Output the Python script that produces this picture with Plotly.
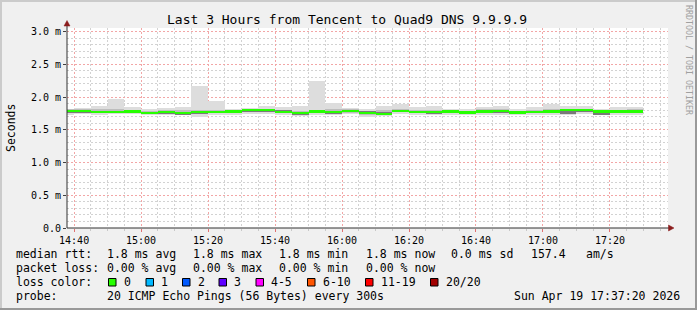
import plotly.graph_objects as go
import pandas as pd

DAY = "2026-04-19"
bin_start = ["14:35", "14:40", "14:45", "14:50", "14:55",
             "15:00", "15:05", "15:10", "15:15", "15:20", "15:25",
             "15:30", "15:35", "15:40", "15:45", "15:50", "15:55",
             "16:00", "16:05", "16:10", "16:15", "16:20", "16:25",
             "16:30", "16:35", "16:40", "16:45", "16:50", "16:55",
             "17:00", "17:05", "17:10", "17:15", "17:20", "17:25"]

rtt_max = [1.82, 1.83, 1.86, 1.97, 1.84, 1.82, 1.83, 1.84, 2.17, 1.94, 1.82, 1.83,
           1.87, 1.85, 1.86, 2.25, 1.91, 1.83, 1.81, 1.86, 1.89, 1.84, 1.86, 1.81,
           1.81, 1.85, 1.86, 1.82, 1.84, 1.90, 1.86, 1.86, 1.81, 1.84, 1.84]
rtt_p75 = [1.81, 1.81, 1.81, 1.81, 1.80, 1.79, 1.80, 1.80, 1.80, 1.80, 1.80, 1.82,
           1.82, 1.80, 1.79, 1.80, 1.81, 1.81, 1.79, 1.80, 1.81, 1.80, 1.80, 1.80,
           1.79, 1.81, 1.81, 1.79, 1.80, 1.81, 1.82, 1.82, 1.80, 1.80, 1.81]
rtt_p60 = [1.80, 1.80, 1.785, 1.79, 1.79, 1.775, 1.785, 1.775, 1.785, 1.79, 1.795, 1.81,
           1.81, 1.80, 1.775, 1.795, 1.785, 1.80, 1.79, 1.765, 1.80, 1.79, 1.785, 1.795,
           1.78, 1.795, 1.80, 1.78, 1.79, 1.795, 1.81, 1.81, 1.79, 1.795, 1.795]
rtt_median = [1.79, 1.79, 1.77, 1.775, 1.78, 1.76, 1.77, 1.755, 1.77, 1.775, 1.78, 1.80,
              1.80, 1.77, 1.76, 1.78, 1.77, 1.79, 1.755, 1.745, 1.79, 1.775, 1.77, 1.78,
              1.765, 1.78, 1.785, 1.765, 1.775, 1.78, 1.80, 1.80, 1.78, 1.78, 1.78]
rtt_p40 = [1.76, 1.77, 1.75, 1.76, 1.755, 1.745, 1.755, 1.73, 1.755, 1.76, 1.765, 1.78,
           1.785, 1.765, 1.73, 1.765, 1.755, 1.775, 1.745, 1.73, 1.775, 1.76, 1.755, 1.765,
           1.74, 1.765, 1.77, 1.745, 1.76, 1.755, 1.745, 1.78, 1.73, 1.765, 1.765]
rtt_p25 = [1.76, 1.76, 1.75, 1.76, 1.76, 1.74, 1.75, 1.73, 1.74, 1.75, 1.76, 1.77,
           1.77, 1.75, 1.73, 1.76, 1.75, 1.76, 1.72, 1.73, 1.77, 1.76, 1.75, 1.76,
           1.74, 1.76, 1.76, 1.74, 1.76, 1.75, 1.76, 1.77, 1.74, 1.76, 1.76]
rtt_min = [1.73, 1.74, 1.73, 1.74, 1.74, 1.72, 1.73, 1.72, 1.70, 1.73, 1.73, 1.74,
           1.74, 1.73, 1.71, 1.73, 1.73, 1.74, 1.69, 1.71, 1.74, 1.73, 1.72, 1.73,
           1.72, 1.73, 1.73, 1.72, 1.73, 1.72, 1.73, 1.74, 1.72, 1.73, 1.73]

y_tick_vals = [0.0, 0.5, 1.0, 1.5, 2.0, 2.5, 3.0]
y_tick_text = ["0.0", "0.5 m", "1.0 m", "1.5 m", "2.0 m", "2.5 m", "3.0 m"]

title_text = "Last 3 Hours from Tencent to Quad9 DNS 9.9.9.9"
y_title = "Seconds"
watermark = "RRDTOOL / TOBI OETIKER"

rtt_line = ["median rtt:", "1.8 ms avg", "1.8 ms max", "1.8 ms min",
            "1.8 ms now", "0.0 ms sd", "157.4", "am/s"]
loss_line = ["packet loss:", "0.00 % avg", "0.00 % max", "0.00 % min", "0.00 % now"]
loss_title = "loss color:"
loss_labels = ["0", "1", "2", "3", "4-5", "6-10", "11-19", "20/20"]
loss_colors = ["#26ff00", "#00b8ff", "#0059ff", "#5e00ff", "#ff00ff",
               "#ff5500", "#ff0000", "#a10000"]
probe_line = ["probe:", "20 ICMP Echo Pings (56 Bytes) every 300s"]
stamp = "Sun Apr 19 17:37:20 2026"

# ---------------- layout geometry (pixels) ----------------
WIDTH, HEIGHT = 697, 310
L, T, PW, PH = 67, 28, 601, 200
MONO = "DejaVu Sans Mono"


def px(x):
    return (x - L) / PW


def py(y):
    return (T + PH - y) / PH


x_start = pd.to_datetime([f"{DAY} {t}" for t in bin_start])
STEP_MS = 300000


def band(lo, hi, color):
    return go.Bar(
        x=x_start, y=[h - l for l, h in zip(lo, hi)], base=lo,
        width=STEP_MS, offset=0, marker=dict(color=color, line=dict(width=0)),
        hoverinfo="skip", showlegend=False)


fig = go.Figure()
fig.add_trace(band(rtt_min, rtt_max, "#dddddd"))
fig.add_trace(band(rtt_p25, rtt_p75, "#bdbdbd"))
fig.add_trace(band(rtt_p40, rtt_p60, "#7a7a7a"))
MED_H = 0.036
fig.add_trace(band([m - MED_H / 2 for m in rtt_median],
                   [m + MED_H / 2 for m in rtt_median], loss_colors[0]))

GRID_MIN = "#d2d2d2"
GRID_MAJ = "#f2a6a6"
DASH = "2px,2px"

fig.update_layout(
    width=WIDTH, height=HEIGHT,
    margin=dict(l=L, r=WIDTH - L - PW, t=T, b=HEIGHT - T - PH, pad=0),
    paper_bgcolor="#f0f0f0", plot_bgcolor="#ffffff",
    barmode="overlay", bargap=0, showlegend=False,
    font=dict(family=MONO, size=10, color="#000000"),
    xaxis=dict(
        type="date",
        range=[f"{DAY} 14:37:53", f"{DAY} 17:37:20"],
        tick0=f"{DAY} 14:40", dtick=1200000, tickformat="%H:%M",
        showgrid=True, gridcolor=GRID_MAJ, griddash=DASH, gridwidth=1,
        ticks="outside", ticklen=3, tickcolor="#e07070", tickwidth=1,
        tickfont=dict(family=MONO, size=10),
        minor=dict(dtick=300000, tick0=f"{DAY} 14:40", showgrid=True,
                   gridcolor=GRID_MIN, griddash=DASH, gridwidth=1,
                   ticks="outside", ticklen=2, tickcolor="#c8c8c8"),
        showline=False, zeroline=False, fixedrange=True,
    ),
    yaxis=dict(
        range=[0, PH / 65.5],
        tickmode="array", tickvals=y_tick_vals, ticktext=y_tick_text,
        showgrid=True, gridcolor=GRID_MAJ, griddash=DASH, gridwidth=1,
        ticks="outside", ticklen=3, tickcolor="#404040", tickwidth=1,
        tickfont=dict(family=MONO, size=10),
        minor=dict(tick0=0, dtick=0.1, showgrid=True, gridcolor=GRID_MIN,
                   griddash=DASH, gridwidth=1),
        showline=False, zeroline=False, fixedrange=True,
    ),
)

shapes = []
# frame shading
shapes.append(dict(type="rect", xref="paper", yref="paper",
                   x0=px(0), x1=px(WIDTH), y0=py(2), y1=py(0),
                   fillcolor="#cbcbcb", line=dict(width=0), layer="below"))
shapes.append(dict(type="rect", xref="paper", yref="paper",
                   x0=px(0), x1=px(2), y0=py(HEIGHT), y1=py(0),
                   fillcolor="#cbcbcb", line=dict(width=0), layer="below"))
shapes.append(dict(type="rect", xref="paper", yref="paper",
                   x0=px(0), x1=px(WIDTH), y0=py(HEIGHT), y1=py(HEIGHT - 2),
                   fillcolor="#999999", line=dict(width=0), layer="below"))
shapes.append(dict(type="rect", xref="paper", yref="paper",
                   x0=px(WIDTH - 2), x1=px(WIDTH), y0=py(HEIGHT), y1=py(0),
                   fillcolor="#999999", line=dict(width=0), layer="below"))
# axes
AX = "#303030"
shapes.append(dict(type="line", xref="paper", yref="paper",
                   x0=px(67), x1=px(670), y0=py(228), y1=py(228),
                   line=dict(color=AX, width=1)))
shapes.append(dict(type="line", xref="paper", yref="paper",
                   x0=px(67), x1=px(67), y0=py(228), y1=py(24),
                   line=dict(color=AX, width=1)))
ARROW = "#8b1c1c"


def tri(points):
    path = "M " + " L ".join(f"{px(a)},{py(b)}" for a, b in points) + " Z"
    return dict(type="path", xref="paper", yref="paper", path=path,
                fillcolor=ARROW, line=dict(color=ARROW, width=0.5))


shapes.append(tri([(674, 228), (668.5, 225), (668.5, 231)]))
shapes.append(tri([(67, 20.5), (64, 26), (70, 26)]))

# loss color boxes
box_x = [108.5, 146, 182.5, 219, 256, 307.5, 365.5, 430.5]
for bx, col in zip(box_x, loss_colors):
    shapes.append(dict(type="rect", xref="paper", yref="paper",
                       x0=px(bx), x1=px(bx + 7.5), y0=py(286), y1=py(278.5),
                       fillcolor=col, line=dict(color="#000000", width=1)))
fig.update_layout(shapes=shapes)

ann = []


def text(x, y, s, size=11.5, anchor="left", color="#000000", angle=0):
    ann.append(dict(x=px(x), y=py(y), xref="paper", yref="paper", text=s,
                    showarrow=False, xanchor=anchor, yanchor="middle",
                    textangle=angle, borderpad=0, borderwidth=0,
                    font=dict(family=MONO, size=size, color=color)))


text(347, 19, title_text, size=13, anchor="center")
text(11, 128, y_title, size=11.5, anchor="center", angle=-90)
text(689, 60, watermark, size=8.3, anchor="center", color="#a0a0a0", angle=90)

rtt_x = [16, 107, 193.3, 279, 365.7, 451, 530.7, 586]
for x, s in zip(rtt_x, rtt_line):
    text(x, 254, s)
loss_x = [16, 107.3, 193.3, 279, 365.7]
for x, s in zip(loss_x, loss_line):
    text(x, 268, s)
text(16, 282, loss_title)
for bx, s in zip(box_x, loss_labels):
    text(bx + 15, 282, s)
text(16, 296, probe_line[0])
text(107, 296, probe_line[1])
text(680, 296, stamp, anchor="right")

fig.update_layout(annotations=ann)
fig.write_html("out.html")
